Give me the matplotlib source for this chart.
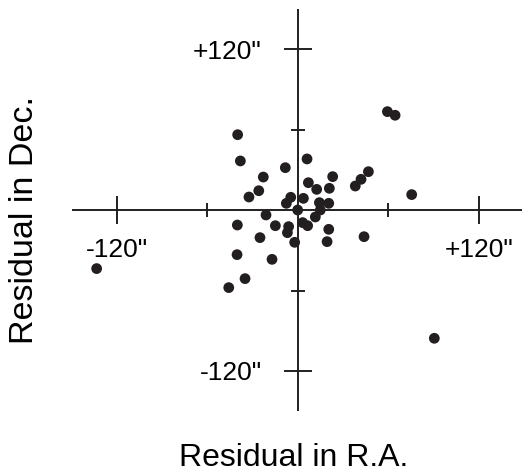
import matplotlib
matplotlib.use("Agg")
import matplotlib.pyplot as plt
from matplotlib.ticker import FixedLocator

# Residuals of fitted positions (arcseconds)
ra_residual = [-133.4, -39.9, -38.1, -22.9, -8.3, 6.1, -32.4, -25.9, 7.0, 12.5,
               20.9, 23.1, -4.7, -7.6, 3.7, -0.1, 14.3, 20.5, 14.9, 11.6,
               -21.1, -40.1, -14.9, -6.1, -6.9, 3.2, 6.5, 20.5, -25.1, -2.1,
               19.4, 43.9, -40.3, -17.1, -35.0, -45.8, 38.1, 41.9, 46.8, 75.5,
               59.4, 64.5, 90.5]
dec_residual = [-43.6, 56.3, 36.7, 24.7, 31.7, 38.2, 9.8, 14.5, 20.5, 15.5,
                16.3, 25.0, 9.6, 5.1, 8.8, 0.1, 5.6, 5.1, 0.1, -5.1,
                -3.6, -11.1, -11.6, -12.3, -16.8, -9.3, -11.6, -14.3, -20.5, -24.0,
                -23.5, -19.8, -33.2, -36.7, -51.1, -57.8, 18.0, 23.0, 28.7, 11.6,
                73.5, 70.8, -95.6]

major_ticks = [-120, 120]
minor_ticks = [-60, 60]
major_labels = ['-120"', '+120"']

ink = "#231f20"
plt.rcParams["font.family"] = ["Liberation Sans", "DejaVu Sans"]

fig = plt.figure(figsize=(5.22, 4.74), dpi=100)
ax = fig.add_axes([0.1372, 0.1325, 0.8667, 0.8483])
ax.set_xlim(-150, 150)
ax.set_ylim(-150, 150)

ax.scatter(ra_residual, dec_residual, s=60, color=ink, edgecolors="none",
           zorder=3, clip_on=False)

# Cross-shaped axes through the origin
for side in ("top", "right"):
    ax.spines[side].set_visible(False)
for side in ("left", "bottom"):
    ax.spines[side].set_position(("data", 0))
    ax.spines[side].set_color(ink)
    ax.spines[side].set_linewidth(1.4)
    ax.spines[side].set_capstyle("butt")

ax.xaxis.set_major_locator(FixedLocator(major_ticks))
ax.xaxis.set_minor_locator(FixedLocator(minor_ticks))
ax.yaxis.set_major_locator(FixedLocator(major_ticks))
ax.yaxis.set_minor_locator(FixedLocator(minor_ticks))
ax.set_xticklabels(major_labels)
ax.set_yticklabels(major_labels)

ax.tick_params(which="major", direction="inout", length=20, width=1.4,
               color=ink, labelsize=19, labelcolor="black")
ax.tick_params(which="minor", direction="inout", length=10, width=1.4,
               color=ink)
ax.tick_params(axis="x", which="major", pad=10)
ax.tick_params(axis="y", which="major", pad=16)

ax.set_xlabel("Residual in R.A.", fontsize=23, color="black")
ax.set_ylabel("Residual in Dec.", fontsize=24.5, color="black")
ax.xaxis.label.set_va("baseline")
ax.xaxis.set_label_coords(294 / 522, (474 - 465.5) / 474, transform=fig.transFigure)
ax.yaxis.label.set_rotation_mode("anchor")
ax.yaxis.label.set_va("baseline")
ax.yaxis.label.set_ha("center")
ax.yaxis.set_label_coords(33.5 / 522, (474 - 220) / 474, transform=fig.transFigure)

fig.savefig("out.png", dpi=100, facecolor="white")
